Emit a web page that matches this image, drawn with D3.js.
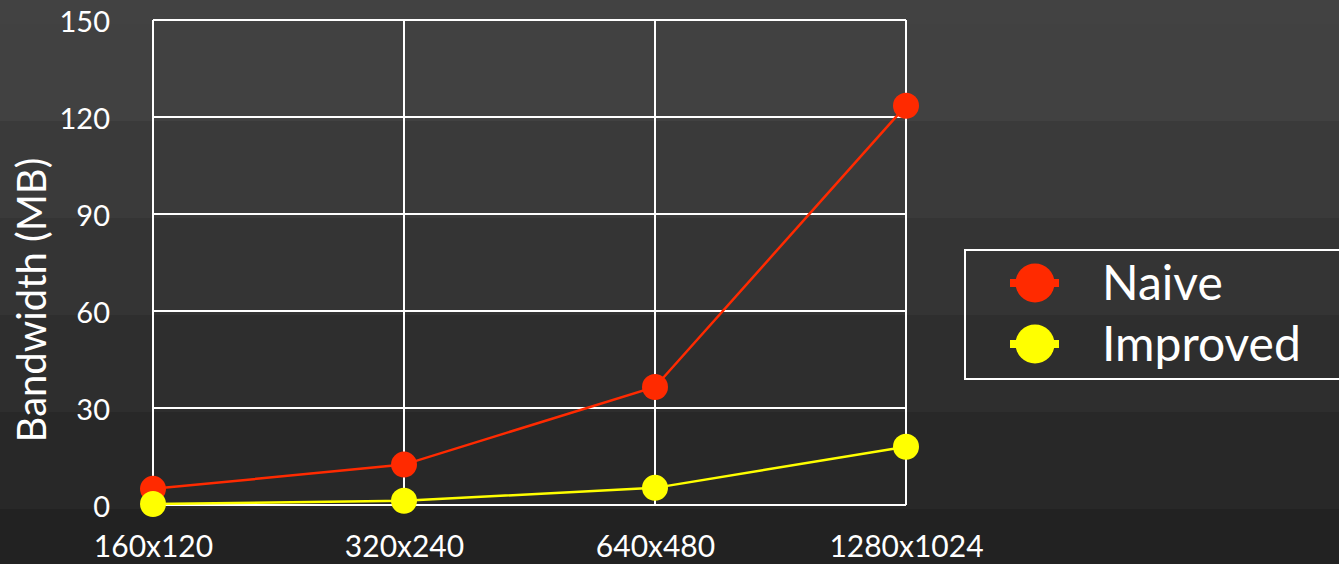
<!DOCTYPE html>
<html>
<head>
<meta charset="utf-8">
<script src="https://cdn.jsdelivr.net/npm/d3@7"></script>
<style>
  body { margin: 0; background: #222; overflow: hidden; }
  text { font-family: Lato, "Open Sans", sans-serif; fill: #fff; }
</style>
</head>
<body>
<svg id="chart"></svg>
<script>
// DATA ///////////////////////////////////////////////////////////////
var categories = ["160x120", "320x240", "640x480", "1280x1024"];
var naive = [5, 12.5, 36.5, 123.5];
var improved = [0.3, 1.3, 5.3, 18];
var yTicks = [0, 30, 60, 90, 120, 150];
var seriesNames = ["Naive", "Improved"];
var seriesColours = ["#ff2a00", "#ffff00"];
var bandColours = ["#424242", "#414141", "#3a3a3a", "#343434", "#2e2e2e", "#282828", "#222222"];

// SETUP //////////////////////////////////////////////////////////////
var W = 1339, H = 564;
var PLOT = { left: 153, right: 906, top: 20, bottom: 505 };

var svg = d3.select("#chart").attr("width", W).attr("height", H);

// stepped background bands
var band_y = d3.scaleBand().domain(d3.range(bandColours.length)).range([-73, 606]);
svg.append("g")
    .selectAll("rect")
    .data(bandColours)
    .enter().append("rect")
        .attr("x", 0)
        .attr("width", W)
        .attr("y", function (d, i) { return Math.max(0, band_y(i)); })
        .attr("height", function (d, i) { return band_y(i) + band_y.bandwidth() - Math.max(0, band_y(i)); })
        .attr("fill", function (d) { return d; });

var x = d3.scalePoint().domain(categories).range([PLOT.left, PLOT.right]);
var y = d3.scaleLinear().domain([0, 150]).range([PLOT.bottom, PLOT.top]);

// GRID ///////////////////////////////////////////////////////////////
var grid = svg.append("g");
grid.selectAll("line.h")
    .data(yTicks)
    .enter().append("line")
        .attr("x1", PLOT.left).attr("x2", PLOT.right)
        .attr("y1", function (d) { return y(d); })
        .attr("y2", function (d) { return y(d); })
        .attr("stroke", "#fff").attr("stroke-width", 2);
grid.selectAll("line.v")
    .data(categories)
    .enter().append("line")
        .attr("y1", PLOT.top).attr("y2", PLOT.bottom)
        .attr("x1", function (d) { return x(d); })
        .attr("x2", function (d) { return x(d); })
        .attr("stroke", "#fff").attr("stroke-width", 2);

// AXES ///////////////////////////////////////////////////////////////
var yAxis = svg.append("g")
    .attr("transform", "translate(" + (PLOT.left - 43) + ",0)")
    .call(d3.axisLeft(y).tickValues(yTicks).tickSize(0).tickPadding(0));
yAxis.select(".domain").remove();
yAxis.selectAll("text")
    .style("font-size", "29px")
    .attr("dy", "0.38em")
    .attr("fill", "#fff");

var xAxis = svg.append("g")
    .attr("transform", "translate(0," + PLOT.bottom + ")")
    .call(d3.axisBottom(x).tickSize(0).tickPadding(0));
xAxis.select(".domain").remove();
xAxis.selectAll("text")
    .style("font-size", "30px")
    .attr("dy", null)
    .attr("y", 52)
    .attr("fill", "#fff");

svg.append("text")
    .attr("transform", "translate(46," + 300 + ") rotate(-90)")
    .style("text-anchor", "middle")
    .style("font-size", "40px")
    .text("Bandwidth (MB)");

// SERIES /////////////////////////////////////////////////////////////
var series = [naive, improved];
var line = d3.line()
    .x(function (d, i) { return x(categories[i]); })
    .y(function (d) { return y(d); });

series.forEach(function (vals, s) {
    var g = svg.append("g");
    g.append("path")
        .datum(vals)
        .attr("d", line)
        .attr("fill", "none")
        .attr("stroke", seriesColours[s])
        .attr("stroke-width", 2.5);
    g.selectAll("circle")
        .data(vals)
        .enter().append("circle")
            .attr("cx", function (d, i) { return x(categories[i]); })
            .attr("cy", function (d) { return y(d); })
            .attr("r", 13)
            .attr("fill", seriesColours[s]);
});

// LEGEND /////////////////////////////////////////////////////////////
var legend = svg.append("g");
legend.append("rect")
    .attr("x", 965).attr("y", 250)
    .attr("width", 420).attr("height", 129)
    .attr("fill", "none")
    .attr("stroke", "#fff")
    .attr("stroke-width", 2);

var legend_y = d3.scalePoint().domain(seriesNames).range([283, 344]);
var items = legend.selectAll("g.item")
    .data(seriesNames)
    .enter().append("g")
        .attr("transform", function (d) { return "translate(0," + legend_y(d) + ")"; });
items.append("line")
    .attr("x1", 1010).attr("x2", 1059)
    .attr("stroke", function (d, i) { return seriesColours[i]; })
    .attr("stroke-width", 8);
items.append("circle")
    .attr("cx", 1035)
    .attr("r", 19.5)
    .attr("fill", function (d, i) { return seriesColours[i]; });
items.append("text")
    .attr("x", 1102)
    .attr("dy", "0.36em")
    .style("font-size", "48px")
    .text(function (d) { return d; });
</script>
</body>
</html>
